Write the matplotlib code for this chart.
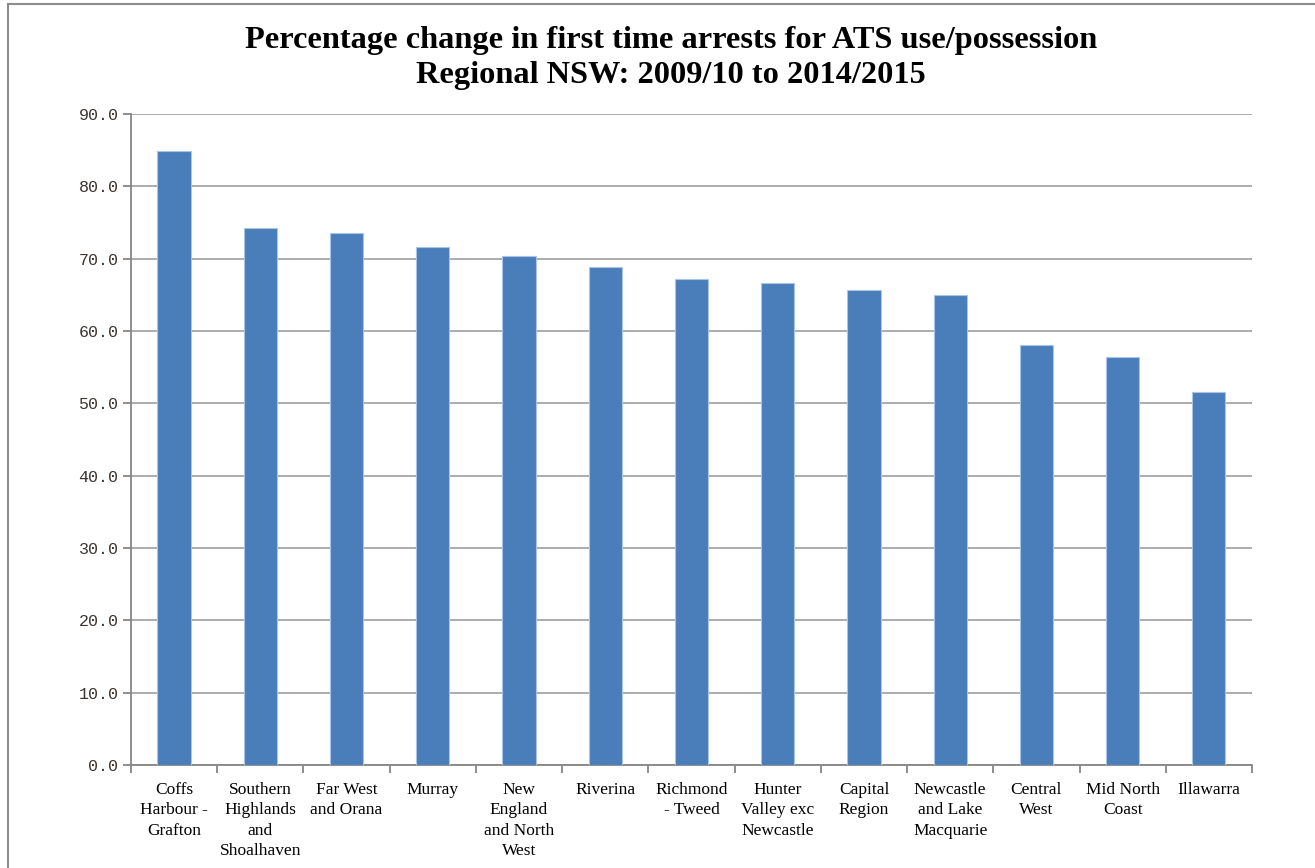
import matplotlib.pyplot as plt
import numpy as np

# Regions and percentage change values
regions = ["Coffs\nHarbour -\nGrafton", "Southern\nHighlands\nand\nShoalhaven",
           "Far West\nand Orana", "Murray", "New\nEngland\nand North\nWest",
           "Riverina", "Richmond\n- Tweed", "Hunter\nValley exc\nNewcastle",
           "Capital\nRegion", "Newcastle\nand Lake\nMacquarie", "Central\nWest",
           "Mid North\nCoast", "Illawarra"]
pct_change = [84.9, 74.2, 73.6, 71.6, 70.3, 68.8, 67.2, 66.7, 65.7, 65.0, 58.0, 56.4, 51.5]
yticks = [0, 10, 20, 30, 40, 50, 60, 70, 80, 90]

grid_col = "#a6a6a6"
axis_col = "#868686"

fig = plt.figure(figsize=(13.15, 8.68), dpi=100)
ax = fig.add_axes([0.0996, 0.1187, 0.9521 - 0.0996, 0.8687 - 0.1187])

x = np.arange(len(regions))
ax.bar(x, pct_change, width=0.385, color="#4A7EBB", edgecolor="#a9c5e6",
       linewidth=0.8, zorder=3)

ax.set_xlim(-0.5, len(regions) - 0.5)
ax.set_ylim(0, 90)
ax.set_yticks(yticks)
ax.set_yticklabels([f"{v:.1f}" for v in yticks], family="Liberation Mono",
                   fontsize=12, color="#3a3530")
ax.yaxis.grid(True, color=grid_col, linewidth=1.3, zorder=0)
ax.tick_params(axis="y", length=6, color=axis_col, width=1.3, pad=3)

# category labels in the middle, tick marks on the boundaries
ax.set_xticks(x)
ax.set_xticklabels(regions, family="Liberation Serif", fontsize=12.5,
                   va="top", linespacing=1.38)
ax.tick_params(axis="x", which="major", length=0, pad=12)
ax.set_xticks(np.arange(len(regions) + 1) - 0.5, minor=True)
ax.tick_params(axis="x", which="minor", length=6, color=axis_col, width=1.3)

for side in ["top", "right"]:
    ax.spines[side].set_visible(False)
for side in ["left", "bottom"]:
    ax.spines[side].set_color(axis_col)
    ax.spines[side].set_linewidth(1.3)

fig.text(0.510, 0.970, "Percentage change in first time arrests for ATS use/possession\n"
         "Regional NSW: 2009/10 to 2014/2015", ha="center", va="top",
         family="Liberation Serif", fontweight="bold", fontsize=23.3, linespacing=1.25)

# outer frame lines
fig.add_artist(plt.Line2D([8 / 1315, 1], [1 - 4 / 868, 1 - 4 / 868],
                          color="#8c8c8c", linewidth=1.5, transform=fig.transFigure))
fig.add_artist(plt.Line2D([8 / 1315, 8 / 1315], [0, 1 - 4 / 868],
                          color="#8c8c8c", linewidth=1.5, transform=fig.transFigure))

fig.savefig("out.png", dpi=100)
